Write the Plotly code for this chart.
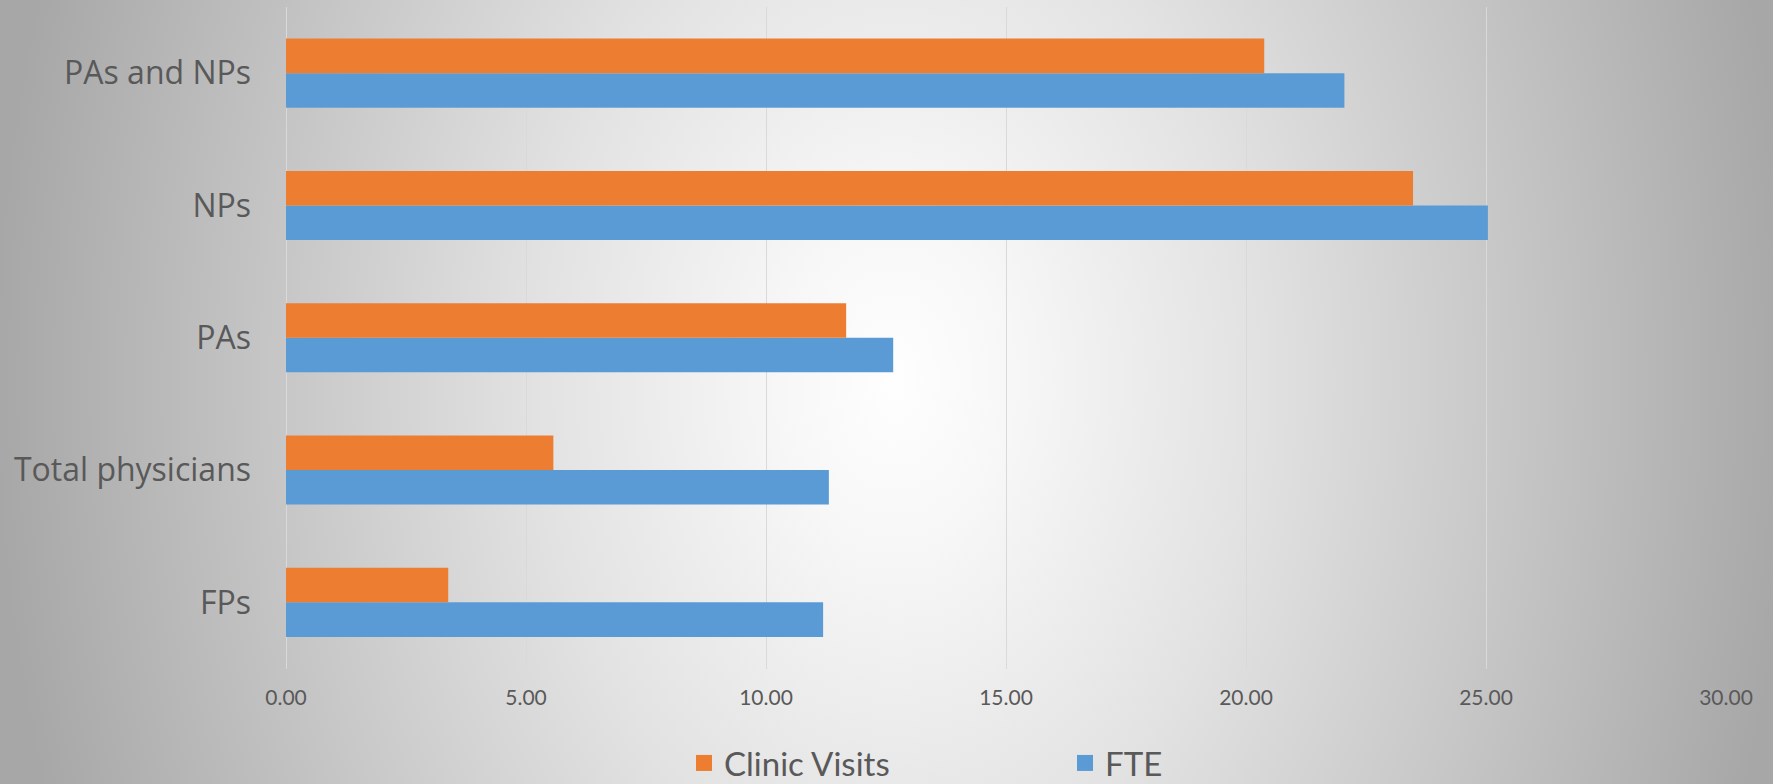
import base64
import plotly.graph_objects as go

# ---- data ----
categories = ["FPs", "Total physicians", "PAs", "NPs", "PAs and NPs"]
fte = [11.19, 11.31, 12.65, 25.04, 22.05]
clinic_visits = [3.38, 5.57, 11.67, 23.48, 20.38]
x_ticks = [0, 5, 10, 15, 20, 25, 30]

FTE_COLOR = "#5B9BD5"
CV_COLOR = "#ED7D31"

W, H = 1773, 784

# background: radial grey gradient (as an SVG image behind the chart)
svg = f'''<svg xmlns="http://www.w3.org/2000/svg" width="{W}" height="{H}" viewBox="0 0 {W} {H}" preserveAspectRatio="none">
<defs><radialGradient id="g" gradientUnits="userSpaceOnUse" cx="895" cy="380" r="900"
gradientTransform="translate(895 380) scale(1 1.4) translate(-895 -380)">
<stop offset="0" stop-color="#fefefe"/>
<stop offset="0.13" stop-color="#f7f7f7"/>
<stop offset="0.4" stop-color="#e2e2e2"/>
<stop offset="0.67" stop-color="#c8c8c8"/>
<stop offset="1" stop-color="#a7a7a7"/>
</radialGradient></defs>
<rect x="0" y="0" width="{W}" height="{H}" fill="url(#g)"/></svg>'''
bg_uri = "data:image/svg+xml;base64," + base64.b64encode(svg.encode()).decode()

fig = go.Figure()
fig.add_trace(go.Bar(
    y=categories, x=fte, name="FTE", orientation="h",
    marker=dict(color=FTE_COLOR, line=dict(width=0)), showlegend=False,
))
fig.add_trace(go.Bar(
    y=categories, x=clinic_visits, name="Clinic Visits", orientation="h",
    marker=dict(color=CV_COLOR, line=dict(width=0)), showlegend=False,
))
# legend entries with larger square swatches
fig.add_trace(go.Scatter(x=[None], y=[None], mode="markers", name="Clinic Visits",
                         marker=dict(symbol="square", size=21, color=CV_COLOR)))
fig.add_trace(go.Scatter(x=[None], y=[None], mode="markers", name="FTE",
                         marker=dict(symbol="square", size=21, color=FTE_COLOR)))

tick_font = dict(family="Lato, sans-serif", size=21, color="#595959")

fig.update_layout(
    width=W, height=H,
    margin=dict(l=0, r=0, t=0, b=0, pad=0, autoexpand=False),
    paper_bgcolor="#a8a8a8",
    plot_bgcolor="rgba(0,0,0,0)",
    barmode="group",
    bargap=0.478,
    bargroupgap=0,
    images=[dict(source=bg_uri, xref="paper", yref="paper", x=0, y=1,
                 sizex=1, sizey=1, xanchor="left", yanchor="top",
                 sizing="stretch", layer="below")],
    xaxis=dict(
        domain=[286 / W, 1726 / W],
        range=[0, 30],
        tickvals=x_ticks,
        tickformat=".2f",
        showgrid=True, gridcolor="#d9d9d9", gridwidth=1,
        zeroline=True, zerolinecolor="#d9d9d9", zerolinewidth=1,
        showline=False, ticks="",
        tickfont=tick_font,
        ticklabelstandoff=14,
        automargin=False,
        fixedrange=True,
    ),
    yaxis=dict(
        domain=[(H - 668.5) / H, (H - 7) / H],
        showgrid=False, zeroline=False, showline=False, ticks="",
        tickfont=dict(family="Open Sans, sans-serif", size=32, color="#595959"),
        ticklabelstandoff=34,
        automargin=False,
        fixedrange=True,
    ),
    legend=dict(
        orientation="h",
        x=684 / W, xanchor="left",
        y=(H - 763) / H, yanchor="middle",
        bgcolor="rgba(0,0,0,0)",
        font=dict(family="Lato, sans-serif", size=33, color="#595959"),
        entrywidth=336, entrywidthmode="pixels",
        itemclick=False, itemdoubleclick=False,
    ),
    showlegend=True,
)

fig.write_html("out.html")
